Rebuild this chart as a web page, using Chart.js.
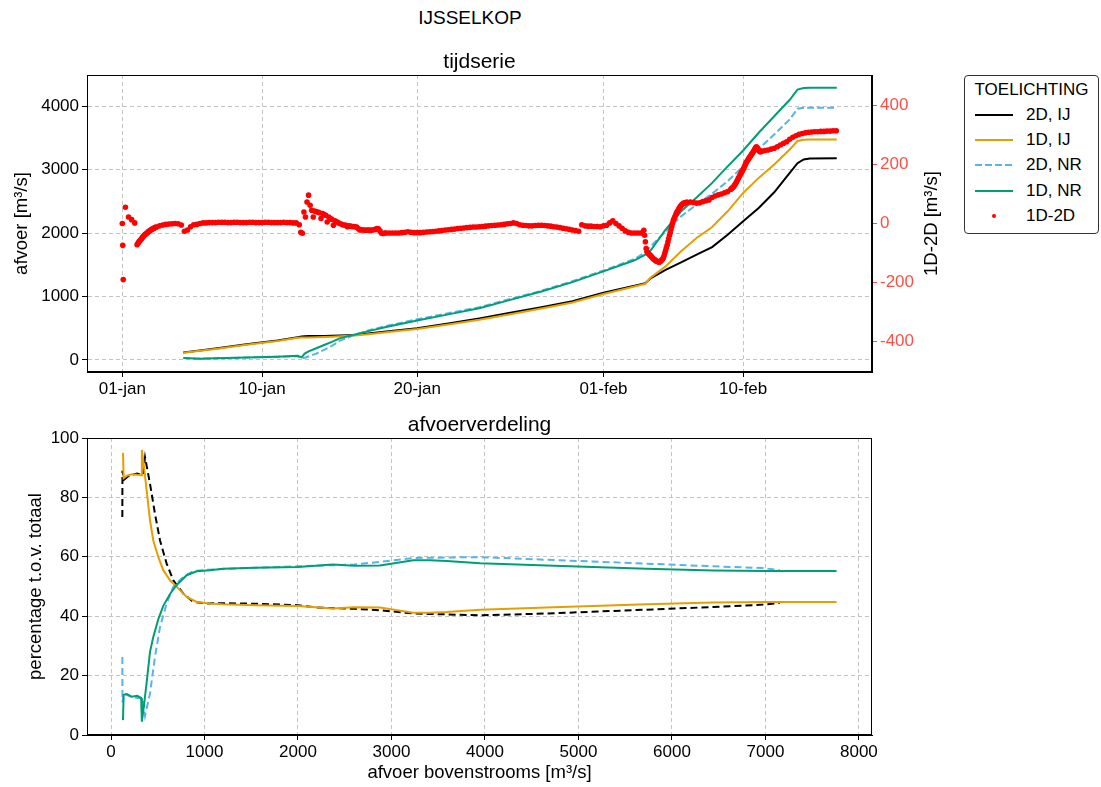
<!DOCTYPE html>
<html>
<head>
<meta charset="utf-8">
<title>IJSSELKOP</title>
<script src="https://cdn.jsdelivr.net/npm/chart.js@4.4.1/dist/chart.umd.min.js"></script>
<style>
    body { margin: 0; background: #fff; font-family: "Liberation Sans", Arial, sans-serif; }
    #wrap { position: relative; width: 1101px; height: 787px; overflow: hidden; }
    #suptitle { position: absolute; left: 0; top: 6px; width: 940px; text-align: center; font-size: 19px; line-height: 24px; color: #000; }
    #tijdserie { position: absolute; left: 0; top: 0; }
    #verdeling { position: absolute; left: 0; top: 400px; }
    #legend { position: absolute; left: 964px; top: 75px; width: 135px; height: 159px; box-sizing: border-box;
              border: 1px solid #333; border-radius: 4px; background: #fff; font-size: 17px; color: #000; }
    #legend .lg-title { height: 26px; line-height: 28px; text-align: center; }
    #legend .lg-item { height: 25.3px; display: flex; align-items: center; }
    #legend svg { margin-left: 10px; margin-right: 13px; flex: none; }
</style>
</head>
<body>
<div id="wrap">
    <div id="suptitle">IJSSELKOP</div>
    <canvas id="tijdserie" width="1101" height="400"></canvas>
    <canvas id="verdeling" width="1101" height="387"></canvas>
    <div id="legend"></div>
</div>
<script>
// --- tijdserie: dagen vanaf 01-jan, afvoer in m3/s ---
const lijnDagen = [3.93, 5, 6, 8, 10, 11.3, 11.55, 11.75, 12, 12.5, 13, 13.5, 14, 15, 16, 17, 19, 21, 23, 25,
    27, 29, 31, 33, 33.7, 34, 35, 36, 37, 38, 39, 40, 41, 42, 43, 43.5, 43.9, 44.3, 46.03];
const afvoer2dIJ = [116, 148, 179, 247, 305, 358, 368, 375, 378, 379, 379, 381, 384, 395, 421, 447, 500, 575, 655, 745,
    830, 925, 1060, 1168, 1210, 1280, 1421, 1537, 1658, 1779, 1974, 2184, 2395, 2642, 2948, 3100, 3160, 3175, 3180];
const afvoer1dIJ = [112, 143, 174, 240, 298, 350, 352, 353, 355, 358, 362, 366, 372, 385, 410, 437, 488, 560, 632, 720,
    810, 905, 1040, 1158, 1200, 1290, 1474, 1711, 1921, 2095, 2342, 2632, 2869, 3079, 3316, 3450, 3470, 3475, 3475];
const afvoer2dNR = [30, 20, 25, 38, 52, 58, 22, 35, 55, 100, 160, 222, 300, 400, 475, 535, 640, 735, 832, 960,
    1090, 1240, 1410, 1590, 1700, 1780, 2026, 2263, 2447, 2621, 2816, 3053, 3327, 3553, 3790, 3958, 3974, 3974, 3974];
const afvoer1dNR = [30, 20, 25, 38, 52, 65, 40, 100, 135, 185, 235, 285, 340, 400, 462, 520, 620, 718, 816, 947,
    1079, 1226, 1395, 1570, 1660, 1711, 2053, 2342, 2560, 2790, 3050, 3300, 3580, 3840, 4100, 4260, 4285, 4290, 4290];

// verschil 1D-2D, elke 0.2 dag vanaf 01-jan (null waar de fijnere reeksen het overnemen)
const verschilStart = 0;
const verschilStap = 0.2;
const verschil1d2d = [
    0, 55, 22, 13, 2, null, null, null, null, null,
    null, null, -8, -5, -3, -2, -1, 0, -1, -5,
    -26, -22, -11, -4, -3, 0, 2, 2, 3, 3,
    3, 4, 4, 4, 3, 3, 4, 4, 3, 3,
    3, 4, 4, 3, 3, 3, 4, 4, 3, 3,
    3, 3, 4, 3, 3, 2, 2, null, null, null,
    null, null, null, null, null, null, null, null, null, null,
    null, null, null, null, null, null, null, null, null, null,
    null, null, null, null, null, null, -32, -32, -32, -32,
    -31, -30, -28, -30, -31, -31, -31, -30, -29, -28,
    -27, -26, -25, -24, -22, -21, -20, -19, -17, -16,
    -15, -14, -13, -12, -12, -11, -10, -9, -8, -7,
    -6, -5, -4, -3, -1, 0, 2, 0, -4, -6,
    -7, -8, -8, -7, -6, -6, -7, -8, -9, -11,
    -12, -14, -16, -18, -20, -22, -24, -26, -4, -8,
    -9, -9, -10, -10, -11, -8, -6, 2, 9, 0,
    -8, -16, -25, -30, -32, -32, -32, -32, null, null,
    null, null, null, null, null, null, null, null, null, null,
    null, null, null, 73, 71, 69, 70, 74, 77, 80,
    88, 93, 97, 100, 104, 108, null, null, null, null,
    null, null, null, null, null, null, null, 247, 249, 252,
    255, 260, 266, 272, 277, 285, 292, 297, 302, 305,
    307, 309, 310, 311, 311, 312, 312, 313, 313, 314,
    314
];
// fijnere reeksen op de steile en onrustige stukken
const fijnStap = 0.05;
const verschilBeginStart = 0.95;
const verschilBegin = [-72, -68, -64, -60, -57, -54, -51, -47, -44, -41, -38, -36, -34, -32, -29, -27, -25, -23, -21, -20,
    -18, -17, -15, -14, -13, -12];
const piekStap = 0.1;
const verschilPiekStart = 11.4;
const verschilPiek = [-4, -30, -33, 39, 22, 73, 96, 62, 45, 22,
    42, 40, 39, 36, 17, 34, 30, 28, 5, 22,
    17, 14, -6, 9, 6, 3, 0, -2, -4, -5,
    -6, -11, -8, -9, -10, -10, -11, -12, -17, -22,
    -21, -22, -22, -23, -22, -22, -23, -22, -21, -20,
    -17, -18, -25, -33, -34, -32, -32];
const verschilDalStart = 33.6;
const verschilDal = [-23, -40, -62, -85, -96, -99, -102, -105, -107, -110, -113, -116, -119, -121, -123, -125, -127, -128, -129, -130,
    -130, -129, -127, -124, -121, -117, -110, -101, -92, -83, -74, -63, -52, -41, -31, -20, -9, 1, 11, 17,
    23, 29, 35, 40, 44, 49, 53, 57, 61, 64, 66, 68, 69, 70, 71, 72, 72];
const verschilStijgingStart = 39.2;
const verschilStijging = [116, 118, 121, 123, 126, 130, 134, 139, 144, 149, 154, 159, 164, 169, 174, 179, 184, 189, 195, 201,
    207, 211, 215, 219, 223, 227, 231, 235, 239, 243, 247, 252, 256, 260, 257, 252, 248, 245, 243, 244, 245];
// losse punten op de eerste dag
const losseDagen = [0.03, 0.06];
const losseVerschil = [-74, -190];

const datumTicks = [0, 9, 19, 31, 40];
const datumLabels = ['01-jan', '10-jan', '20-jan', '01-feb', '10-feb'];
const afvoerTicks = [0, 1000, 2000, 3000, 4000];
const verschilTicks = [-400, -200, 0, 200, 400];

// --- afvoerverdeling: percentage t.o.v. totaal ---
const totaal1D = [128, 135, 170, 220, 280, 322, 330, 345, 381, 417, 452, 506, 559, 631, 702, 809, 916, 1058, 1200, 1533,
    2000, 2372, 2600, 2877, 3233, 3412, 3590, 3947, 4660, 5729, 6442, 7000, 7761];
const pct1dIJ = [95, 86.5, 87.3, 87.8, 87.6, 87.5, 96, 92.4, 82.4, 72.3, 65.5, 59.9, 55.5, 52.1, 49.9, 46.5, 44.8, 44.3, 44.0, 43.7,
    43.4, 42.6, 43.0, 42.9, 41.2, 41.2, 41.4, 42.2, 42.9, 44.0, 44.6, 44.8, 44.8];
const pct1dNR = [5, 13.5, 13.8, 12.9, 13.2, 12.5, 4.5, 8, 17.6, 28, 33, 39, 43.5, 47.5, 50.5, 53.8, 55.1, 55.5, 56.0, 56.3,
    56.6, 57.4, 57.0, 57.1, 58.8, 58.8, 58.6, 57.8, 57.1, 56.0, 55.4, 55.2, 55.2];
const totaal2D = [121, 122, 140, 200, 280, 340, 364, 417, 470, 524, 595, 666, 773, 880, 1023, 1176, 1533, 2000, 2200, 2600,
    2877, 3233, 3947, 4660, 5729, 6442, 6976, 7154];
const pct2dIJ = [73.4, 89, 86, 87.5, 88, 87.5, 93.5, 84.6, 74.5, 65.5, 57.7, 52.1, 47.6, 44.8, 44.3, 44.4, 44.2, 43.7, 42.9, 42.5,
    42.0, 40.9, 40.3, 40.9, 42.2, 43.1, 43.9, 44.5];
const pct2dNR = [26.3, 11, 14, 13, 12.5, 12.5, 6.5, 14, 26.3, 36.4, 44.3, 49.9, 53.2, 55.2, 55.6, 55.9, 56.3, 56.8, 57.0, 57.4,
    58.3, 59.6, 59.9, 59.0, 57.7, 56.8, 56.2, 55.5];
const afvoerBovenTicks = [0, 1000, 2000, 3000, 4000, 5000, 6000, 7000, 8000];
const pctTicks = [0, 20, 40, 60, 80, 100];

const kleuren = { zwart: '#000000', oranje: '#E69F00', blauw: '#56B4E9', groen: '#009E73', rood: '#ff0000', roodAs: '#ff4f45' };
const lettertype = '"Liberation Sans", Arial, sans-serif';
const tickFont = { family: lettertype, size: 17 };
const labelFont = { family: lettertype, size: 18.5 };
const titelFont = { family: lettertype, size: 21, weight: 'normal' };

Chart.defaults.animation = false;
Chart.defaults.color = '#000';

const punten = (xs, ys) => xs.map((x, i) => ({ x: x, y: ys[i] }));
const reeks = (start, stap, ys) => ys.map((y, i) => ({ x: start + i * stap, y: y }));
const vasteTicks = (waarden) => (scale) => { scale.ticks = waarden.map(v => ({ value: v })); };
const kaal = (v) => String(v);

// kader rond het plotgebied, zoals matplotlib spines
const kader = {
    id: 'kader',
    afterDatasetsDraw(chart) {
        const { ctx, chartArea: a } = chart;
        ctx.save();
        ctx.strokeStyle = '#000';
        ctx.lineWidth = 1;
        ctx.strokeRect(Math.round(a.left) + 0.5, Math.round(a.top) + 0.5, Math.round(a.width) - 1, Math.round(a.height) - 1);
        ctx.restore();
    }
};

// titel van de rechter as, van onder naar boven gelezen
const rechterTitel = {
    id: 'rechterTitel',
    afterDraw(chart, args, opts) {
        if (!opts.text) return;
        const { ctx, chartArea: a } = chart;
        ctx.save();
        ctx.translate(opts.x, (a.top + a.bottom) / 2);
        ctx.rotate(-Math.PI / 2);
        ctx.font = labelFont.size + 'px ' + lettertype;
        ctx.fillStyle = '#000';
        ctx.textAlign = 'center';
        ctx.textBaseline = 'middle';
        ctx.fillText(opts.text, 0, 0);
        ctx.restore();
    }
};

function rooster() {
    return { color: '#c4c4c4', lineWidth: 1, tickLength: 5, tickColor: '#000', tickWidth: 1, tickBorderDash: [] };
}
const rand = { display: true, color: '#000', width: 1, dash: [4, 3] };

const verschilPunten = reeks(verschilStart, verschilStap, verschil1d2d)
    .concat(reeks(verschilBeginStart, fijnStap, verschilBegin))
    .concat(reeks(verschilPiekStart, piekStap, verschilPiek))
    .concat(reeks(verschilDalStart, fijnStap, verschilDal))
    .concat(reeks(verschilStijgingStart, fijnStap, verschilStijging))
    .concat(punten(losseDagen, losseVerschil));

// Bovenste grafiek: tijdserie
const tijdChart = new Chart(document.getElementById('tijdserie'), {
    type: 'line',
    data: {
        datasets: [
            { label: '2D, IJ', data: punten(lijnDagen, afvoer2dIJ), borderColor: kleuren.zwart, borderWidth: 2, pointRadius: 0, yAxisID: 'y', order: 4 },
            { label: '1D, IJ', data: punten(lijnDagen, afvoer1dIJ), borderColor: kleuren.oranje, borderWidth: 2, pointRadius: 0, yAxisID: 'y', order: 3 },
            { label: '2D, NR', data: punten(lijnDagen, afvoer2dNR), borderColor: kleuren.blauw, borderWidth: 2, borderDash: [7, 3], pointRadius: 0, yAxisID: 'y', order: 2 },
            { label: '1D, NR', data: punten(lijnDagen, afvoer1dNR), borderColor: kleuren.groen, borderWidth: 2, pointRadius: 0, yAxisID: 'y', order: 1 },
            {
                label: '1D-2D', data: verschilPunten,
                showLine: false, pointRadius: 2.8, pointBackgroundColor: kleuren.rood, pointBorderWidth: 0,
                borderColor: kleuren.rood, backgroundColor: kleuren.rood, yAxisID: 'y2', order: 0
            }
        ]
    },
    options: {
        responsive: false,
        devicePixelRatio: 1,
        events: [],
        layout: { padding: { left: 0, right: 159, top: 0, bottom: 0 } },
        plugins: {
            legend: { display: false },
            tooltip: { enabled: false },
            title: { display: true, fullSize: false, text: 'tijdserie', font: titelFont, color: '#000', padding: { top: 49.8, bottom: 0 } },
            rechterTitel: { text: '1D-2D [m³/s]', x: 932 }
        },
        scales: {
            x: {
                type: 'linear', min: -2.275, max: 48.3,
                afterBuildTicks: vasteTicks(datumTicks),
                afterFit: (s) => { s.height = 28; },
                ticks: { font: tickFont, padding: 2, maxRotation: 0, autoSkip: false, callback: (v, i) => datumLabels[i] },
                grid: rooster(), border: rand
            },
            y: {
                type: 'linear', position: 'left', min: -190, max: 4490,
                afterBuildTicks: vasteTicks(afvoerTicks),
                afterFit: (s) => { s.width = 87; },
                ticks: { font: tickFont, padding: 3, callback: kaal },
                grid: rooster(), border: rand,
                title: { display: true, text: 'afvoer [m³/s]', font: labelFont, padding: { top: 11, bottom: 0 } }
            },
            y2: {
                type: 'linear', position: 'right', min: -503, max: 503,
                afterBuildTicks: vasteTicks(verschilTicks),
                afterFit: (s) => { s.width = 70; },
                ticks: { font: tickFont, padding: 3, color: kleuren.roodAs, callback: kaal },
                grid: { drawOnChartArea: false, tickLength: 5, tickColor: kleuren.roodAs, tickWidth: 1 },
                border: { display: true, color: '#000', width: 1 }
            }
        }
    },
    plugins: [kader, rechterTitel]
});

// Onderste grafiek: afvoerverdeling
new Chart(document.getElementById('verdeling'), {
    type: 'line',
    data: {
        datasets: [
            { label: '2D, IJ', data: punten(totaal2D, pct2dIJ), borderColor: kleuren.zwart, borderWidth: 2, borderDash: [7, 4], pointRadius: 0, order: 4 },
            { label: '2D, NR', data: punten(totaal2D, pct2dNR), borderColor: kleuren.blauw, borderWidth: 2, borderDash: [7, 4], pointRadius: 0, order: 3 },
            { label: '1D, IJ', data: punten(totaal1D, pct1dIJ), borderColor: kleuren.oranje, borderWidth: 2, pointRadius: 0, order: 2 },
            { label: '1D, NR', data: punten(totaal1D, pct1dNR), borderColor: kleuren.groen, borderWidth: 2, pointRadius: 0, order: 1 }
        ]
    },
    options: {
        responsive: false,
        devicePixelRatio: 1,
        events: [],
        layout: { padding: { left: 0, right: 229, top: 0, bottom: 0 } },
        plugins: {
            legend: { display: false },
            tooltip: { enabled: false },
            title: { display: true, fullSize: false, text: 'afvoerverdeling', font: titelFont, color: '#000', padding: { top: 12.4, bottom: 0.4 } }
        },
        scales: {
            x: {
                type: 'linear', min: -257, max: 8140,
                afterBuildTicks: vasteTicks(afvoerBovenTicks),
                afterFit: (s) => { s.height = 52; },
                ticks: { font: tickFont, padding: 2, maxRotation: 0, autoSkip: false, callback: kaal },
                grid: rooster(), border: rand,
                title: { display: true, text: 'afvoer bovenstrooms [m³/s]', font: labelFont, padding: { top: 0, bottom: 3 } }
            },
            y: {
                type: 'linear', min: 0, max: 100,
                afterBuildTicks: vasteTicks(pctTicks),
                afterFit: (s) => { s.width = 87; },
                ticks: { font: tickFont, padding: 3, callback: kaal },
                grid: rooster(), border: rand,
                title: { display: true, text: 'percentage t.o.v. totaal', font: labelFont, padding: { top: 25, bottom: 0 } }
            }
        }
    },
    plugins: [kader]
});

// Legenda opbouwen uit de datasets van de tijdserie
const legenda = document.getElementById('legend');
legenda.innerHTML = '<div class="lg-title">TOELICHTING</div>';
tijdChart.data.datasets.forEach(ds => {
    let teken;
    if (ds.showLine === false) {
        teken = '<circle cx="19" cy="4" r="2" fill="' + ds.pointBackgroundColor + '"/>';
    } else {
        const dash = ds.borderDash ? ' stroke-dasharray="' + ds.borderDash.join(',') + '"' : '';
        teken = '<line x1="0" y1="4" x2="38" y2="4" stroke="' + ds.borderColor + '" stroke-width="2"' + dash + '/>';
    }
    const rij = document.createElement('div');
    rij.className = 'lg-item';
    rij.innerHTML = '<svg width="38" height="8">' + teken + '</svg><span>' + ds.label + '</span>';
    legenda.appendChild(rij);
});
</script>
</body>
</html>
